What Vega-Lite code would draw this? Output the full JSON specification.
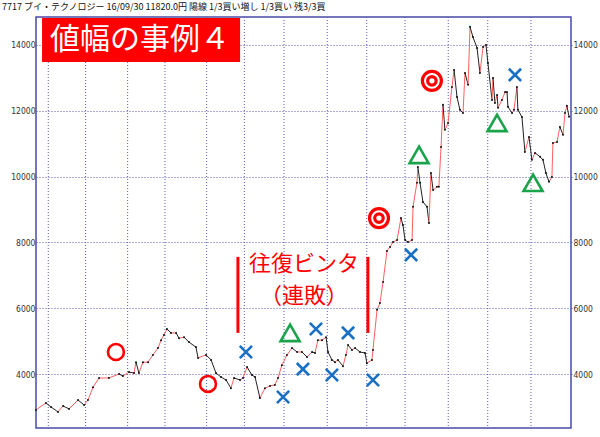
{
  "$schema": "https://vega.github.io/schema/vega-lite/v6.json",
  "autosize": {"type": "none"},
  "padding": {"left": 36, "top": 17, "right": 29, "bottom": 9},
  "width": 535,
  "height": 411,
  "background": "white",
  "config": {
    "view": {"stroke": "#4a4aa8", "strokeWidth": 1.5},
    "font": "Noto Sans CJK JP"
  },
  "title": {
    "text": "7717 ブイ・テクノロジー 16/09/30 11820.0円 陽線 1/3買い増し 1/3買い 残3/3買",
    "anchor": "start",
    "frame": "group",
    "dx": -34,
    "offset": 5,
    "font": "Noto Sans CJK JP",
    "fontSize": 9,
    "fontWeight": "normal",
    "color": "#111"
  },
  "datasets": {
    "price": [
      {"d": 0, "p": 2910}, {"d": 5.1, "p": 3120}, {"d": 7.7, "p": 3000}, {"d": 11.3, "p": 2850},
      {"d": 13.9, "p": 3030}, {"d": 17.0, "p": 2940}, {"d": 21.6, "p": 3210}, {"d": 24.7, "p": 3060},
      {"d": 26.7, "p": 3210}, {"d": 29.3, "p": 3600}, {"d": 32.4, "p": 3880}, {"d": 37.5, "p": 3880},
      {"d": 42.7, "p": 4000}, {"d": 44.7, "p": 3940}, {"d": 47.8, "p": 4060}, {"d": 50.4, "p": 4030},
      {"d": 51.4, "p": 4360}, {"d": 52.9, "p": 4030}, {"d": 55.0, "p": 4360}, {"d": 57.6, "p": 4360},
      {"d": 60.1, "p": 4580}, {"d": 62.7, "p": 4790}, {"d": 64.3, "p": 5030}, {"d": 65.8, "p": 5190},
      {"d": 67.3, "p": 5370}, {"d": 69.4, "p": 5250}, {"d": 72.0, "p": 5250}, {"d": 73.5, "p": 5090},
      {"d": 76.1, "p": 5120}, {"d": 78.6, "p": 4970}, {"d": 82.2, "p": 4820}, {"d": 83.3, "p": 4490},
      {"d": 87.4, "p": 4580}, {"d": 90.0, "p": 4430}, {"d": 92.5, "p": 4030}, {"d": 95.1, "p": 3910},
      {"d": 97.7, "p": 3820}, {"d": 100.2, "p": 3570}, {"d": 101.8, "p": 3880}, {"d": 104.9, "p": 3820},
      {"d": 106.4, "p": 3880}, {"d": 108.5, "p": 4210}, {"d": 111.0, "p": 3970}, {"d": 112.6, "p": 3910},
      {"d": 115.1, "p": 3270}, {"d": 117.7, "p": 3570}, {"d": 120.3, "p": 3640}, {"d": 122.8, "p": 3670},
      {"d": 124.4, "p": 3880}, {"d": 126.4, "p": 4270}, {"d": 129.0, "p": 4580}, {"d": 131.6, "p": 4790},
      {"d": 134.2, "p": 4670}, {"d": 136.7, "p": 4670}, {"d": 139.3, "p": 4520}, {"d": 141.9, "p": 4670},
      {"d": 143.4, "p": 4640}, {"d": 144.9, "p": 5030}, {"d": 147.0, "p": 5030}, {"d": 149.1, "p": 5120},
      {"d": 150.1, "p": 4670}, {"d": 152.1, "p": 4430}, {"d": 153.7, "p": 4360}, {"d": 155.2, "p": 4430},
      {"d": 157.8, "p": 4240}, {"d": 159.3, "p": 4580}, {"d": 160.4, "p": 4880}, {"d": 162.4, "p": 4730},
      {"d": 164.0, "p": 4790}, {"d": 166.5, "p": 4670}, {"d": 169.1, "p": 4640}, {"d": 170.1, "p": 4330},
      {"d": 172.7, "p": 4430}, {"d": 173.2, "p": 4730}, {"d": 175.3, "p": 5950}, {"d": 176.8, "p": 6160},
      {"d": 178.4, "p": 6800}, {"d": 180.4, "p": 7740}, {"d": 182.0, "p": 7860}, {"d": 183.5, "p": 8010},
      {"d": 185.6, "p": 8070}, {"d": 187.6, "p": 8740}, {"d": 188.6, "p": 8530}, {"d": 189.7, "p": 8070},
      {"d": 191.2, "p": 8010}, {"d": 193.3, "p": 8070}, {"d": 193.8, "p": 9080}, {"d": 195.8, "p": 9810},
      {"d": 196.3, "p": 10290}, {"d": 197.4, "p": 9810}, {"d": 198.9, "p": 9230}, {"d": 201.0, "p": 9080},
      {"d": 202.0, "p": 8590}, {"d": 203.0, "p": 10110}, {"d": 204.1, "p": 9590}, {"d": 206.1, "p": 9690},
      {"d": 207.1, "p": 9690}, {"d": 208.2, "p": 10900}, {"d": 209.2, "p": 12180}, {"d": 210.2, "p": 11420},
      {"d": 211.8, "p": 11630}, {"d": 213.8, "p": 12720}, {"d": 214.9, "p": 13240}, {"d": 216.4, "p": 12420},
      {"d": 217.9, "p": 12030}, {"d": 219.5, "p": 11930}, {"d": 220.5, "p": 13150}, {"d": 222.1, "p": 12790},
      {"d": 223.1, "p": 14550}, {"d": 224.6, "p": 14240}, {"d": 226.7, "p": 13910}, {"d": 228.2, "p": 13150},
      {"d": 229.8, "p": 13940}, {"d": 231.3, "p": 14000}, {"d": 232.3, "p": 13450}, {"d": 234.4, "p": 12330},
      {"d": 234.9, "p": 13000}, {"d": 235.9, "p": 12240}, {"d": 237.0, "p": 12480}, {"d": 237.5, "p": 12090},
      {"d": 239.5, "p": 12330}, {"d": 241.1, "p": 12570}, {"d": 242.1, "p": 12570}, {"d": 242.6, "p": 12120},
      {"d": 244.7, "p": 11930}, {"d": 245.7, "p": 12030}, {"d": 247.2, "p": 12720}, {"d": 247.7, "p": 12030},
      {"d": 249.8, "p": 11810}, {"d": 251.3, "p": 10750}, {"d": 253.4, "p": 11200}, {"d": 254.9, "p": 10510},
      {"d": 256.5, "p": 10720}, {"d": 259.1, "p": 10600}, {"d": 260.6, "p": 10510}, {"d": 262.1, "p": 10110},
      {"d": 263.7, "p": 9840}, {"d": 265.2, "p": 9990}, {"d": 265.7, "p": 11020}, {"d": 267.8, "p": 11050},
      {"d": 269.3, "p": 11510}, {"d": 270.9, "p": 11270}, {"d": 271.9, "p": 11930}, {"d": 272.9, "p": 12150},
      {"d": 274.0, "p": 11820}
    ],
    "months": [
      {"d": 6.3}, {"d": 25.5}, {"d": 47.1}, {"d": 66.3}, {"d": 87.7}, {"d": 107.1}, {"d": 127.5},
      {"d": 149.7}, {"d": 170.0}, {"d": 189.7}, {"d": 211.9}, {"d": 232.2}, {"d": 254.4}
    ],
    "circles": [{"d": 41.1, "p": 4670}, {"d": 88.4, "p": 3700}],
    "doubles": [{"d": 176.3, "p": 8740}, {"d": 203.5, "p": 12910}],
    "triangles": [{"d": 130.6, "p": 5250}, {"d": 196.9, "p": 10660}, {"d": 237.0, "p": 11630}, {"d": 255.5, "p": 9810}],
    "crosses": [
      {"d": 107.9, "p": 4670}, {"d": 127.0, "p": 3300}, {"d": 137.2, "p": 4150}, {"d": 143.9, "p": 5370},
      {"d": 152.1, "p": 3970}, {"d": 160.4, "p": 5250}, {"d": 173.2, "p": 3820}, {"d": 192.8, "p": 7620},
      {"d": 246.2, "p": 13090}
    ],
    "bars": [{"d": 103.8, "p1": 7560, "p2": 5250}, {"d": 170.6, "p1": 7560, "p2": 5250}],
    "notes": [{"d": 137.8, "p": 7344, "t": "往復ビンタ"}, {"d": 137.8, "p": 6371, "t": "（連敗）"}],
    "box": [{"d": 3.1, "d2": 104.9, "p": 14822, "p2": 13485, "t": "値幅の事例４", "tx": 7.2, "ty": 14154}]
  },
  "layer": [
    {
      "data": {"name": "months"},
      "mark": {"type": "rule", "color": "#5a5ab4", "strokeDash": [1, 2], "strokeWidth": 1},
      "encoding": {
        "x": {"field": "d", "type": "quantitative", "axis": null, "scale": {"domain": [0, 275], "nice": false, "zero": false}}
      }
    },
    {
      "data": {"name": "price"},
      "transform": [
        {"window": [{"op": "lag", "field": "p", "as": "p0"}, {"op": "lag", "field": "d", "as": "d0"}], "sort": [{"field": "d"}]},
        {"filter": "datum.p0 != null"}
      ],
      "mark": {"type": "rule", "strokeWidth": 1},
      "encoding": {
        "x": {
          "field": "d0", "type": "quantitative",
          "scale": {"domain": [0, 275], "nice": false, "zero": false},
          "axis": {
            "orient": "bottom", "title": null, "grid": false, "ticks": false, "domain": false,
            "values": [17.5, 35.7, 56, 77.5, 97, 117.5, 139, 161, 177, 201, 223, 243, 266],
            "labelExpr": "['15/09','15/10','15/11','15/12','16/01','16/02','16/03','16/04','16/05','16/06','16/07','16/08','16/09'][indexof([17.5,35.7,56,77.5,97,117.5,139,161,177,201,223,243,266], datum.value)]",
            "labelFont": "Liberation Sans Narrow, DejaVu Sans Condensed", "labelFontSize": 9,
            "labelColor": "#333", "labelPadding": 0, "labelFlush": false, "labelOverlap": false
          }
        },
        "x2": {"field": "d"},
        "y": {
          "field": "p0", "type": "quantitative",
          "scale": {"domain": [2360, 14850], "nice": false, "zero": false},
          "axis": {
            "orient": "left", "title": null, "values": [4000, 6000, 8000, 10000, 12000, 14000], "format": "d",
            "grid": true, "gridColor": "#5a5ab4", "gridDash": [1, 2], "gridWidth": 1,
            "domain": false, "tickSize": 1, "tickColor": "#5a5ab4",
            "labelFont": "Liberation Sans Narrow, DejaVu Sans Condensed", "labelFontSize": 8.5,
            "labelColor": "#333", "labelPadding": 0, "labelFlush": false
          }
        },
        "y2": {"field": "p"},
        "color": {"condition": {"test": "datum.p >= datum.p0", "value": "#ff6060"}, "value": "#222222"}
      }
    },
    {
      "data": {"name": "price"},
      "mark": {"type": "point", "filled": true, "size": 4, "color": "#111", "opacity": 1},
      "encoding": {
        "x": {"field": "d", "type": "quantitative", "axis": null},
        "y": {
          "field": "p", "type": "quantitative",
          "axis": {
            "orient": "right", "title": null, "values": [4000, 6000, 8000, 10000, 12000, 14000], "format": "d",
            "grid": false, "domain": false, "tickSize": 2, "tickColor": "#5a5ab4", "tickDash": [1, 1],
            "labelFont": "Liberation Sans Narrow, DejaVu Sans Condensed", "labelFontSize": 8.5,
            "labelColor": "#333", "labelPadding": 0, "labelFlush": false
          }
        }
      }
    },
    {
      "data": {"name": "circles"},
      "mark": {"type": "point", "shape": "circle", "filled": false, "size": 254, "stroke": "#ff0000", "strokeWidth": 2.6, "opacity": 1},
      "encoding": {
        "x": {"field": "d", "type": "quantitative", "axis": null},
        "y": {"field": "p", "type": "quantitative", "axis": null}
      }
    },
    {
      "data": {"name": "doubles"},
      "mark": {"type": "point", "shape": "circle", "filled": false, "size": 360, "stroke": "#ff0000", "strokeWidth": 3.2, "opacity": 1},
      "encoding": {
        "x": {"field": "d", "type": "quantitative", "axis": null},
        "y": {"field": "p", "type": "quantitative", "axis": null}
      }
    },
    {
      "data": {"name": "doubles"},
      "mark": {"type": "point", "shape": "circle", "filled": false, "size": 72, "stroke": "#ff0000", "strokeWidth": 3.2, "opacity": 1},
      "encoding": {
        "x": {"field": "d", "type": "quantitative", "axis": null},
        "y": {"field": "p", "type": "quantitative", "axis": null}
      }
    },
    {
      "data": {"name": "triangles"},
      "mark": {"type": "point", "shape": "triangle-up", "filled": false, "size": 360, "stroke": "#1aa34a", "strokeWidth": 2.6, "opacity": 1},
      "encoding": {
        "x": {"field": "d", "type": "quantitative", "axis": null},
        "y": {"field": "p", "type": "quantitative", "axis": null}
      }
    },
    {
      "data": {"name": "crosses"},
      "mark": {"type": "point", "shape": "M-1,-1L1,1M-1,1L1,-1", "filled": false, "size": 150, "stroke": "#1a70c4", "strokeWidth": 2.6, "opacity": 1},
      "encoding": {
        "x": {"field": "d", "type": "quantitative", "axis": null},
        "y": {"field": "p", "type": "quantitative", "axis": null}
      }
    },
    {
      "data": {"name": "bars"},
      "mark": {"type": "rule", "color": "#ff0000", "strokeWidth": 3},
      "encoding": {
        "x": {"field": "d", "type": "quantitative", "axis": null},
        "y": {"field": "p1", "type": "quantitative", "axis": null},
        "y2": {"field": "p2"}
      }
    },
    {
      "data": {"name": "notes"},
      "mark": {"type": "text", "color": "#ff0000", "font": "Noto Sans CJK JP", "fontSize": 22, "align": "center", "baseline": "middle"},
      "encoding": {
        "x": {"field": "d", "type": "quantitative", "axis": null},
        "y": {"field": "p", "type": "quantitative", "axis": null},
        "text": {"field": "t"}
      }
    },
    {
      "data": {"name": "box"},
      "mark": {"type": "rect", "color": "#ff0000", "opacity": 1},
      "encoding": {
        "x": {"field": "d", "type": "quantitative", "axis": null},
        "x2": {"field": "d2"},
        "y": {"field": "p", "type": "quantitative", "axis": null},
        "y2": {"field": "p2"}
      }
    },
    {
      "data": {"name": "box"},
      "mark": {"type": "text", "color": "#ffffff", "font": "Noto Sans CJK JP", "fontSize": 30, "align": "left", "baseline": "middle"},
      "encoding": {
        "x": {"field": "tx", "type": "quantitative", "axis": null},
        "y": {"field": "ty", "type": "quantitative", "axis": null},
        "text": {"field": "t"}
      }
    }
  ],
  "resolve": {"axis": {"y": "independent"}}
}
